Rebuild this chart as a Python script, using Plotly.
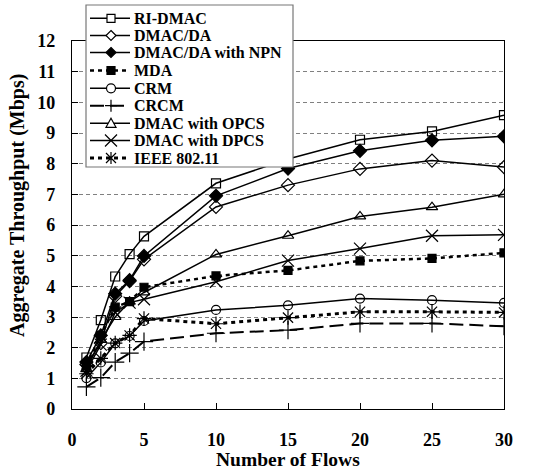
import plotly.graph_objects as go

flows = [1, 2, 3, 4, 5, 10, 15, 20, 25, 30]

ri_dmac = [1.68, 2.90, 4.32, 5.05, 5.63, 7.36, 8.15, 8.78, 9.05, 9.58]
dmac_da = [1.45, 2.15, 3.68, 4.17, 4.88, 6.59, 7.30, 7.83, 8.10, 7.89]
dmac_da_npn = [1.53, 2.40, 3.76, 4.20, 4.99, 6.95, 7.84, 8.42, 8.76, 8.89]
mda = [1.40, 2.40, 3.32, 3.50, 3.97, 4.34, 4.52, 4.83, 4.91, 5.09]
crm = [1.01, 1.52, 2.14, 2.38, 2.87, 3.23, 3.38, 3.60, 3.55, 3.46]
crcm = [0.72, 1.02, 1.53, 1.82, 2.20, 2.47, 2.57, 2.79, 2.79, 2.70]
opcs = [1.30, 2.25, 3.00, 3.50, 3.80, 5.04, 5.65, 6.28, 6.58, 7.00]
dpcs = [1.25, 2.10, 3.15, 3.47, 3.58, 4.15, 4.84, 5.23, 5.65, 5.68]
ieee = [1.15, 1.65, 2.15, 2.40, 2.95, 2.78, 2.98, 3.17, 3.17, 3.15]

names = ["RI-DMAC", "DMAC/DA", "DMAC/DA with NPN", "MDA", "CRM", "CRCM",
         "DMAC with OPCS", "DMAC with DPCS", "IEEE 802.11"]
series = [ri_dmac, dmac_da, dmac_da_npn, mda, crm, crcm, opcs, dpcs, ieee]

x_ticks = [0, 5, 10, 15, 20, 25, 30]
y_ticks = list(range(0, 13))

# style per series: (symbol, marker size, marker fill, dash, line width, legend key kind)
styles = [
    ("square-open", 9, "black", "solid", 1.5, "square"),
    ("diamond-open", 10, "black", "solid", 1.5, "diamond"),
    ("diamond", 10, "black", "solid", 1.5, "diamondf"),
    ("square", 8, "black", "4px,4px", 2.5, "squaref"),
    ("circle-open", 9, "black", "solid", 1.5, "circle"),
    ("cross-thin-open", 13, "black", "14px,6px", 2, "plus"),
    ("triangle-up-open", 10, "black", "solid", 1.5, "triangle"),
    ("x-thin-open", 12, "black", "solid", 1.5, "x"),
    ("asterisk-open", 12, "black", "4px,4px", 3, "asterisk"),
]

fig = go.Figure()
for name, ys, st in zip(names, series, styles):
    sym, size, col, dash, lw, _ = st
    fig.add_trace(go.Scatter(
        x=flows, y=ys, name=name, mode="lines+markers",
        line=dict(color="black", width=lw, dash=dash),
        marker=dict(symbol=sym, size=size, color="black",
                    line=dict(color="black", width=1.2)),
        showlegend=False,
    ))

L, R, T, B = 72, 504, 41, 409
W, H = 548, 471


def px(xp):
    return (xp - L) / (R - L)


def py(yp):
    return (B - yp) / (B - T)


FONT = "Liberation Serif"
shapes = []
annotations = []

# legend box
shapes.append(dict(type="rect", xref="paper", yref="paper",
                   x0=px(86), x1=px(293), y0=py(167), y1=py(5),
                   line=dict(color="#777777", width=1.2), fillcolor="white",
                   layer="above"))

leg_y = [18.3, 35.5, 52.5, 70.5, 88.3, 105.7, 123.3, 140.5, 158.0]


def marker_shape(kind, cx, cy):
    base = dict(xref="paper", yref="paper", xsizemode="pixel", ysizemode="pixel",
                xanchor=px(cx), yanchor=py(cy), layer="above",
                line=dict(color="black", width=1.2))
    if kind == "square":
        return dict(type="rect", x0=-4, x1=4, y0=-4, y1=4, fillcolor="white", **base)
    if kind == "squaref":
        return dict(type="rect", x0=-4, x1=4, y0=-4, y1=4, fillcolor="black", **base)
    if kind == "circle":
        return dict(type="circle", x0=-4.5, x1=4.5, y0=-4.5, y1=4.5, fillcolor="white", **base)
    if kind == "diamond":
        return dict(type="path", path="M0,5L5,0L0,-5L-5,0Z", fillcolor="white", **base)
    if kind == "diamondf":
        return dict(type="path", path="M0,5L5,0L0,-5L-5,0Z", fillcolor="black", **base)
    if kind == "triangle":
        return dict(type="path", path="M0,5L5,-4L-5,-4Z", fillcolor="white", **base)
    if kind == "plus":
        return dict(type="path", path="M-6,0L6,0M0,-6L0,6", **base)
    if kind == "x":
        return dict(type="path", path="M-6,-6L6,6M-6,6L6,-6", **base)
    if kind == "asterisk":
        return dict(type="path", path="M-5,-5L5,5M-5,5L5,-5M0,-6L0,6", **base)
    return None


for name, st, yy in zip(names, styles, leg_y):
    sym, size, col, dash, lw, kind = st
    shapes.append(dict(type="line", xref="paper", yref="paper",
                       x0=px(90), x1=px(130), y0=py(yy), y1=py(yy),
                       line=dict(color="black", width=lw, dash=dash), layer="above"))
    shapes.append(marker_shape(kind, 111, yy))
    annotations.append(dict(text=name, xref="paper", yref="paper",
                            x=px(133), y=py(yy), xanchor="left", yanchor="middle",
                            showarrow=False, borderpad=0,
                            font=dict(family=FONT, size=16, color="black", weight="bold")))

annotations.append(dict(text="Aggregate Throughput (Mbps)", xref="paper", yref="paper",
                        x=px(17), y=py(206), xanchor="center", yanchor="middle",
                        textangle=-90, showarrow=False,
                        font=dict(family=FONT, size=20, color="black", weight="bold")))
annotations.append(dict(text="Number of Flows", xref="paper", yref="paper",
                        x=0.5, y=py(459), xanchor="center", yanchor="middle",
                        showarrow=False, borderpad=0,
                        font=dict(family=FONT, size=19.5, color="black", weight="bold")))

fig.update_layout(
    width=W, height=H,
    margin=dict(l=L, r=W - R, t=T, b=H - B),
    paper_bgcolor="white", plot_bgcolor="white",
    shapes=shapes, annotations=annotations,
    showlegend=False,
    xaxis=dict(range=[0, 30], tickvals=x_ticks, ticktext=[str(v) for v in x_ticks],
               showgrid=False, zeroline=False, showline=True, linecolor="black",
               linewidth=1.2, mirror=True, ticks="inside", ticklen=6, tickcolor="black",
               ticklabelstandoff=14,
               tickfont=dict(family=FONT, size=18, color="black", weight="bold")),
    yaxis=dict(range=[0, 12], tickvals=y_ticks, ticktext=[str(v) for v in y_ticks],
               showgrid=True, gridcolor="#808080", gridwidth=1, griddash="4px,3px",
               zeroline=False, showline=True, linecolor="black",
               linewidth=1.2, mirror=True, ticks="inside", ticklen=6, tickcolor="black",
               ticklabelstandoff=12,
               tickfont=dict(family=FONT, size=18, color="black", weight="bold")),
)

fig.write_html("out.html")
